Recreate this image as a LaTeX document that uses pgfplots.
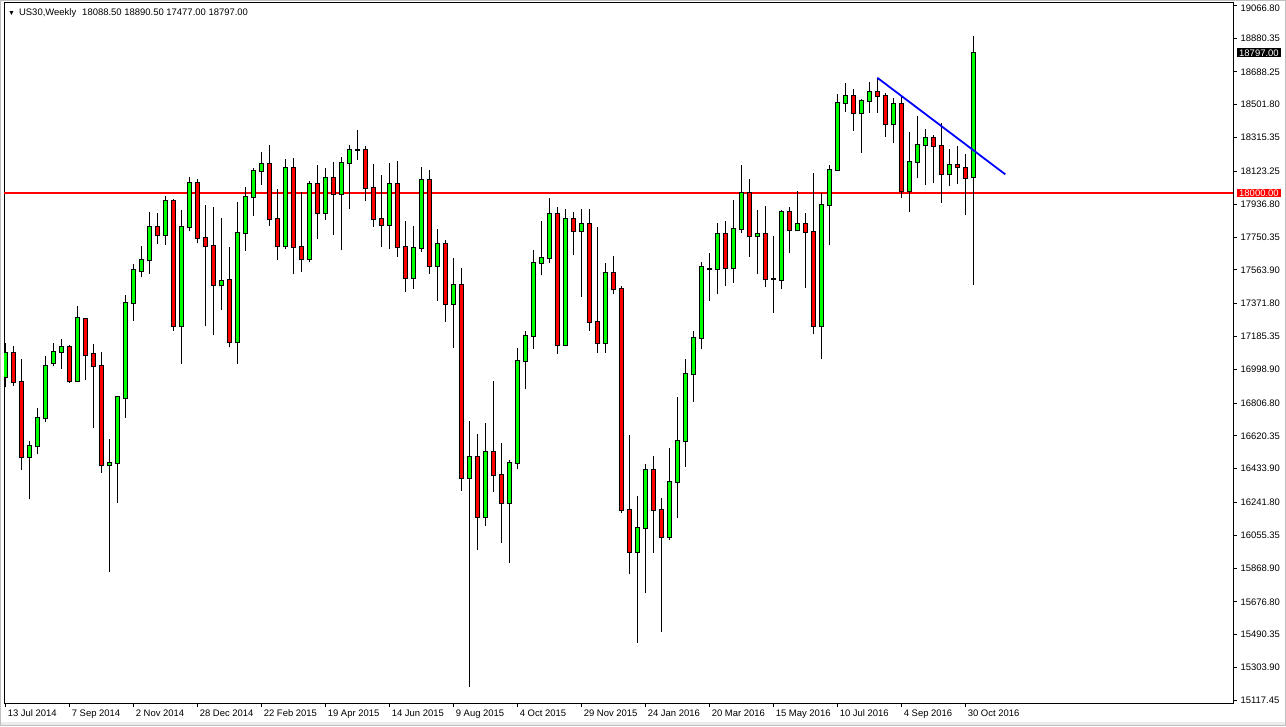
\documentclass[border=0pt]{standalone}
\usepackage{pgfplots}
\pgfplotsset{compat=1.18}
\usepackage{pgfplotstable}
\usepackage{fontspec}
\setmainfont{Liberation Sans}
\definecolor{mtgreen}{RGB}{0,255,0}
\definecolor{mtred}{RGB}{255,0,0}
\definecolor{mtblue}{RGB}{0,0,255}

% weekly candles: bar index, open, high, low, close
\pgfplotstableread{
i o h l c
0 16956 17150 16896 17089
1 17089 17131 16903 16924
2 16924 17057 16426 16498
3 16502 16591 16259 16560
4 16560 16778 16515 16720
5 16720 17074 16701 17015
6 17032 17150 17017 17095
7 17095 17170 17000 17123
8 17123 17134 16922 16930
9 16930 17358 16926 17288
10 17282 17288 16939 17078
11 17083 17142 16666 17019
12 17015 17097 16411 16452
13 16452 16600 15848 16466
14 16464 16845 16240 16839
15 16835 17420 16723 17373
16 17373 17597 17275 17561
17 17555 17697 17521 17617
18 17617 17892 17542 17805
19 17805 17885 17710 17760
20 17760 17981 17706 17953
21 17953 17964 17218 17244
22 17244 17902 17026 17805
23 17805 18089 17782 18055
24 18055 18078 17714 17742
25 17742 17930 17242 17697
26 17697 17919 17191 17475
27 17475 17856 17337 17498
28 17504 17691 17123 17151
29 17151 17947 17026 17771
30 17771 18032 17672 17975
31 17975 18140 17869 18123
32 18123 18233 18048 18163
33 18163 18273 17815 17851
34 17851 18021 17618 17697
35 17697 18192 17680 18140
36 18140 18197 17538 17691
37 17691 18004 17549 17623
38 17623 18066 17606 18049
39 18049 18157 17737 17885
40 17885 18140 17845 18084
41 18084 18174 17760 17994
42 17994 18207 17674 18169
43 18169 18273 17907 18243
44 18243 18358 18188 18243
45 18243 18267 17952 18027
46 18027 18165 17808 17851
47 17851 18105 17693 17821
48 17821 18172 17679 18050
49 18050 18182 17638 17693
50 17693 17839 17439 17516
51 17516 17814 17457 17687
52 17687 18147 17666 18072
53 18072 18131 17541 17583
54 17583 17796 17388 17709
55 17709 17733 17267 17368
56 17368 17628 17117 17476
57 17476 17571 16309 16380
58 16380 16704 15195 16498
59 16498 16631 15972 16161
60 16161 16693 16110 16526
61 16526 16932 16303 16396
62 16396 16578 16013 16237
63 16237 16481 15896 16466
64 16466 17117 16430 17044
65 17044 17214 16884 17186
66 17187 17676 17115 17600
67 17600 17841 17532 17629
68 17629 17974 17600 17879
69 17879 17919 17087 17134
70 17134 17909 17130 17850
71 17850 17890 17646 17782
72 17782 17909 17411 17822
73 17822 17909 17218 17267
74 17265 17807 17089 17146
75 17146 17600 17093 17544
76 17544 17640 17424 17453
77 17453 17472 16180 16199
78 16199 16625 15833 15962
79 15962 16278 15445 16094
80 16094 16458 15725 16424
81 16424 16506 15956 16197
82 16197 16267 15503 16043
83 16043 16549 16028 16358
84 16358 16843 16155 16589
85 16589 17057 16445 16970
86 16970 17216 16814 17174
87 17174 17610 17112 17578
88 17570 17660 17388 17570
89 17566 17830 17424 17765
90 17765 17841 17474 17572
91 17572 17958 17491 17794
92 17794 18159 17771 17998
93 17998 18080 17638 17754
94 17754 17904 17538 17765
95 17765 17926 17464 17509
96 17509 17756 17320 17509
97 17504 17904 17453 17890
98 17890 17919 17657 17788
99 17788 18010 17782 17822
100 17822 17885 17458 17777
101 17777 18112 17197 17244
102 17244 17998 17055 17930
103 17930 18159 17703 18129
104 18131 18563 18131 18510
105 18510 18625 18459 18549
106 18549 18591 18354 18453
107 18453 18532 18229 18521
108 18521 18631 18457 18572
109 18572 18652 18457 18549
110 18549 18567 18320 18390
111 18390 18538 18282 18504
112 18504 18549 17970 18010
113 18010 18345 17894 18174
114 18174 18438 18083 18271
115 18271 18364 18044 18311
116 18311 18330 18055 18265
117 18265 18396 17945 18106
118 18106 18252 18038 18157
119 18157 18265 18049 18146
120 18140 18220 17873 18083
121 18088.5 18890.5 17477 18797
}\candles

% support level drawn across the chart
\pgfplotstableread{
x y
-0.1625 18000
153.4625 18000
}\level

\begin{document}
\begin{tikzpicture}
\begin{axis}[
    name=ax,
    at={(0,0)}, anchor=south west,
    scale only axis,
    width=1229bp, height=701bp,
    xmin=-0.1625, xmax=153.4625,
    ymin=15101.75, ymax=19085.53,
    clip mode=individual,
    axis line style={black, line width=0.8bp},
    tick style={black, line width=0.8bp},
    tick align=outside,
    major tick length=4bp,
    xtick pos=bottom,
    ytick pos=right,
    yticklabel pos=right,
    xtick={0,8,...,120},
    xticklabels={13 Jul 2014, 7 Sep 2014, 2 Nov 2014, 28 Dec 2014, 22 Feb 2015, 19 Apr 2015, 14 Jun 2015, 9 Aug 2015, 4 Oct 2015, 29 Nov 2015, 24 Jan 2016, 20 Mar 2016, 15 May 2016, 10 Jul 2016, 4 Sep 2016, 30 Oct 2016},
    xticklabel style={anchor=north west, xshift=-1bp, yshift=1bp, font=\fontsize{9.5}{11}\selectfont},
    ytick={19066.80,18880.35,18688.25,18501.80,18315.35,18123.25,17936.80,17750.35,17563.90,17371.80,17185.35,16998.90,16806.80,16620.35,16433.90,16241.80,16055.35,15868.90,15676.80,15490.35,15303.90,15117.45},
    yticklabels={\raisebox{-6.5bp}[0pt][0pt]{19066.80},18880.35,18688.25,18501.80,18315.35,18123.25,17936.80,17750.35,17563.90,17371.80,17185.35,16998.90,16806.80,16620.35,16433.90,16241.80,16055.35,15868.90,15676.80,15490.35,15303.90,15117.45},
    yticklabel style={anchor=west, font=\fontsize{9.5}{11}\selectfont},
]
% level line first, candles on top of it
\addplot[color=red, solid, mark=none, line width=1.2bp, forget plot] table[x=x, y=y] {\level};
% wicks
\addplot[draw=none, mark=none, forget plot,
    error bars/.cd, y dir=plus, y explicit, error mark=none,
    error bar style={draw=black, line width=1bp}]
  table[x=i, y=l, y error expr={\thisrow{h}-\thisrow{l}}] {\candles};
% body outlines
\addplot[draw=none, mark=none, forget plot,
    error bars/.cd, y dir=plus, y explicit, error mark=none,
    error bar style={draw=black, line width=5bp}]
  table[x=i, y expr={min(\thisrow{o},\thisrow{c})-6}, y error expr={abs(\thisrow{c}-\thisrow{o})+12}] {\candles};
% bull bodies
\addplot[draw=none, mark=none, forget plot,
    restrict expr to domain={\thisrow{c}-\thisrow{o}}{0.5:100000},
    error bars/.cd, y dir=plus, y explicit, error mark=none,
    error bar style={draw=mtgreen, line width=3bp}]
  table[x=i, y expr={\thisrow{o}}, y error expr={\thisrow{c}-\thisrow{o}}] {\candles};
% bear bodies
\addplot[draw=none, mark=none, forget plot,
    restrict expr to domain={\thisrow{c}-\thisrow{o}}{-100000:-0.5},
    error bars/.cd, y dir=plus, y explicit, error mark=none,
    error bar style={draw=mtred, line width=3bp}]
  table[x=i, y expr={\thisrow{c}}, y error expr={\thisrow{o}-\thisrow{c}}] {\candles};

% trend line
\addplot[color=mtblue, solid, mark=none, line width=1.8bp, forget plot] coordinates {(109,18655) (125,18106)};

\node[anchor=west, fill=mtred, text=white, inner xsep=2bp, inner ysep=1bp,
      font=\fontsize{9.5}{11}\selectfont] at (axis cs:153.4625,18000) [xshift=4bp] {18000.00};
\node[anchor=west, fill=black, text=white, inner xsep=2bp, inner ysep=1bp,
      font=\fontsize{9.5}{11}\selectfont] at (axis cs:153.4625,18797) [xshift=4bp] {18797.00};
\node[anchor=north west, font=\fontsize{9.5}{11}\selectfont, inner sep=0pt]
      at (rel axis cs:0,1) [xshift=4bp, yshift=-6bp]
      {{\fontsize{7}{8}\selectfont ▼}\hspace{4bp}US30,Weekly\hspace{6bp}18088.50 18890.50 17477.00 18797.00};
\end{axis}
\pgfresetboundingbox
\path[use as bounding box] ([xshift=-4bp,yshift=-23bp]ax.south west) rectangle ([xshift=53bp,yshift=2bp]ax.north east);
\draw[gray!50, line width=1bp] ([xshift=-3.5bp,yshift=-22.5bp]ax.south west) rectangle ([xshift=52.5bp,yshift=1.5bp]ax.north east);
\fill[gray!15] ([xshift=-3bp,yshift=-22bp]ax.south west) rectangle ([xshift=52bp,yshift=-19bp]ax.south east);
\end{tikzpicture}
\end{document}
